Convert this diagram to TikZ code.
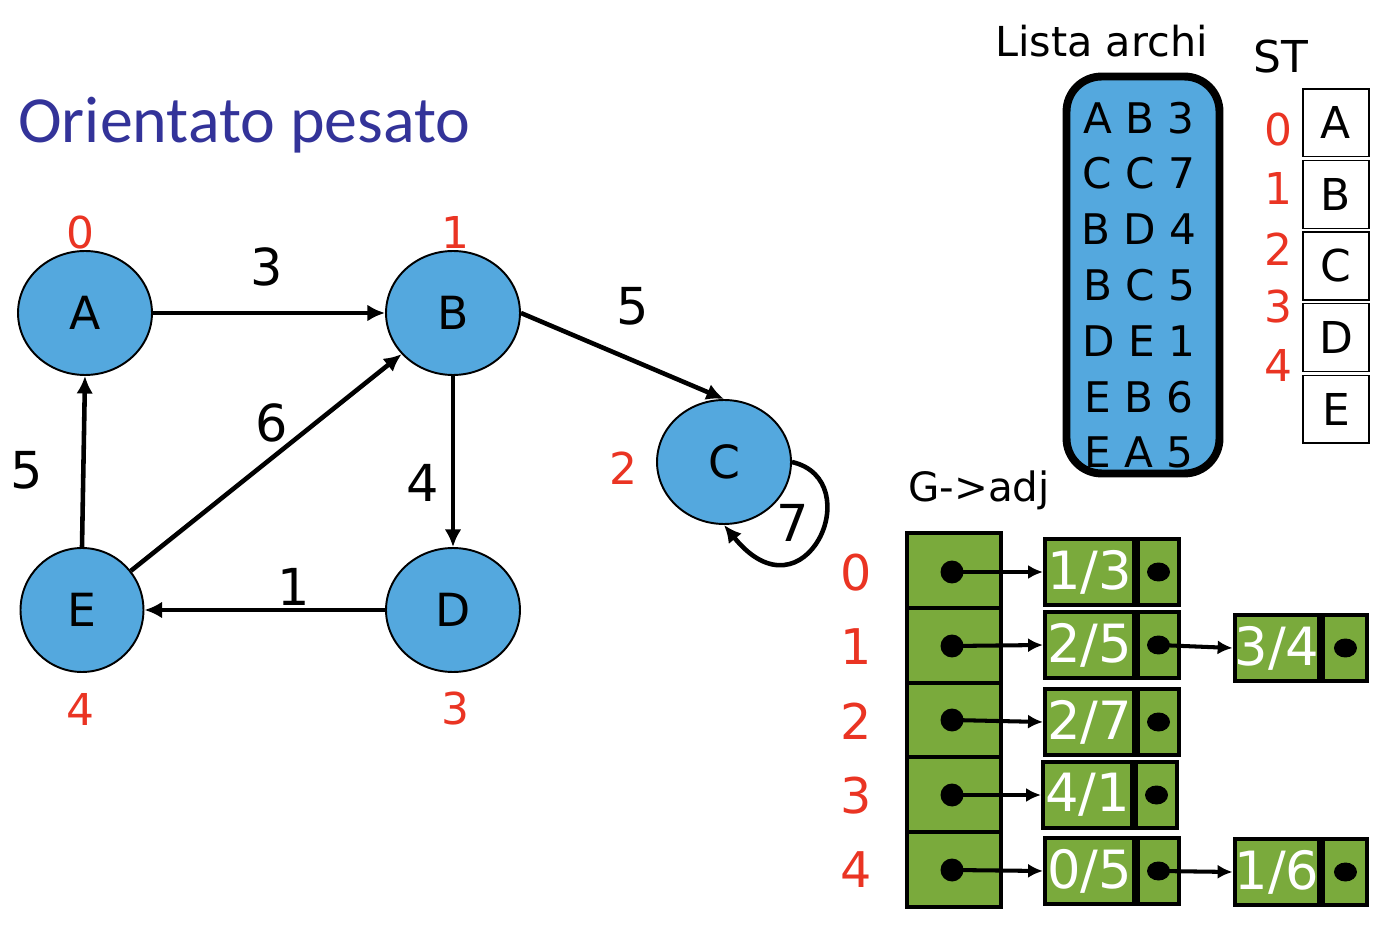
\documentclass[tikz,border=0pt]{standalone}
\usepackage{fontspec}
\setmainfont{DejaVu Sans}
\newfontfamily\titlefont{Carlito}
\usetikzlibrary{shapes.geometric,positioning,arrows.meta}
\definecolor{azzurro}{RGB}{84,168,222}
\definecolor{verde}{RGB}{122,170,60}
\definecolor{rosso}{RGB}{234,52,35}
\definecolor{blutitolo}{RGB}{51,51,153}

\begin{document}
\begin{tikzpicture}[x=0.02cm,y=-0.02cm,
  vertice/.style={ellipse,draw,line width=1.1pt,fill=azzurro,inner sep=0pt,minimum width=2.68cm,minimum height=2.48cm,font=\fontsize{26}{30}\selectfont},
  indice/.style={text=rosso,inner sep=0pt,font=\fontsize{25}{30}\selectfont},
  peso/.style={inner sep=0pt,font=\fontsize{29}{34}\selectfont},
  arco/.style={line width=2.6pt,-{Latex[length=10pt,width=9.5pt]}},
  lista/.style={draw,line width=4.5pt,rounded corners=0.7cm,fill=azzurro,minimum width=3.06cm,minimum height=7.94cm,inner sep=0pt},
  riga/.style={inner sep=0pt,font=\fontsize{24}{28}\selectfont},
  cella/.style={draw,line width=0.8pt,minimum width=1.32cm,minimum height=1.36cm,inner sep=0pt,font=\fontsize{25}{30}\selectfont},
  cellaadj/.style={draw,line width=2.3pt,fill=verde,minimum width=1.88cm,minimum height=1.496cm,inner sep=0pt},
  valore/.style={draw,line width=2.3pt,fill=verde,minimum width=1.78cm,minimum height=1.32cm,inner sep=0pt,text=white,font=\fontsize{30}{34}\selectfont},
  puntatore/.style={draw,line width=2.3pt,fill=verde,minimum width=0.82cm,minimum height=1.32cm,inner sep=0pt},
  punto/.style={circle,fill=black,minimum size=0.46cm,inner sep=0pt},
  puntino/.style={ellipse,fill=black,minimum width=0.46cm,minimum height=0.38cm,inner sep=0pt},
  freccia/.style={line width=2.3pt,-{Latex[length=8.5pt,width=8pt]}}]

\useasboundingbox (0,0) rectangle (1382,928);

% titolo
\node[anchor=base west,inner sep=0pt,text=blutitolo,font=\titlefont\fontsize{37.5}{40}\selectfont] (titolo) at (18,143) {Orientato pesato};

% grafo
\node[vertice] (A) at (85,313) {A};
\node[vertice] (B) at (453,313) {B};
\node[vertice] (C) at (724,462) {C};
\node[vertice] (D) at (453,610) {D};
\node[vertice,minimum width=2.46cm] (E) at (82,610) {E};

\node[indice] (i0) at (80,233) {0};
\node[indice] (i1) at (455,232) {1};
\node[indice] (i2) at (623,468) {2};
\node[indice] (i3) at (455,709) {3};
\node[indice] (i4) at (80,709) {4};

\draw [arco] (A) -- (B);
\draw [arco] (B.east) -- (C.north);
\draw [arco] (B) -- (D);
\draw [arco] (D) -- (E);
\draw [arco] (E.north) -- (A.south);
\draw [arco] (E) -- (B);
\draw [arco] (C.east) .. controls (870,480) and (805,625) .. (C.south);

\node[peso] (p1) at (267,267) {3};
\node[peso] (p2) at (633,306) {5};
\node[peso] (p3) at (272,423) {6};
\node[peso] (p4) at (27,470) {5};
\node[peso] (p5) at (423,483) {4};
\node[peso] (p6) at (294,587) {1};
\node[peso] (p7) at (793,523) {7};

% lista archi
\node[anchor=base west,inner sep=0pt,font=\fontsize{23.5}{28}\selectfont] (tlista) at (995,57) {Lista archi};
\node[lista] (lista) at (1143,275) {};
\node[riga] (r1) at (1139,118) {A B 3};
\node[riga] (r2) at (1139,173) {C C 7};
\node[riga] (r3) at (1139,229) {B D 4};
\node[riga] (r4) at (1139,285) {B C 5};
\node[riga] (r5) at (1139,341) {D E 1};
\node[riga] (r6) at (1139,397) {E B 6};
\node[riga] (r7) at (1139,452) {E A 5};

% tabella di simboli
\node[anchor=base west,inner sep=0pt,font=\fontsize{25}{30}\selectfont] (tst) at (1253,73) {ST};
\node[cella] (st0) at (1336,122.8) {A};
\node[cella] (st1) at (1336,194.4) {B};
\node[cella] (st2) at (1336,266) {C};
\node[cella] (st3) at (1336,337.6) {D};
\node[cella] (st4) at (1336,409.2) {E};
\node[indice] (s0) at (1278,130) {0};
\node[indice] (s1) at (1278,188) {1};
\node[indice] (s2) at (1278,249) {2};
\node[indice] (s3) at (1278,307) {3};
\node[indice] (s4) at (1278,365) {4};

% liste di adiacenza
\node[anchor=base west,inner sep=0pt,font=\fontsize{23}{28}\selectfont] (tadj) at (908,502) {G->adj};
\node[cellaadj] (g0) at (954,570.4) {};
\node[cellaadj] (g1) at (954,645.2) {};
\node[cellaadj] (g2) at (954,720) {};
\node[cellaadj] (g3) at (954,794.8) {};
\node[cellaadj] (g4) at (954,869.6) {};
\node[punto] (d0) at (952,572) {};
\node[punto] (d1) at (952,646) {};
\node[punto] (d2) at (952,720) {};
\node[punto] (d3) at (952,795) {};
\node[punto] (d4) at (952,870) {};
\node[indice,font=\fontsize{28}{32}\selectfont] (a0) at (856,573) {0};
\node[indice,font=\fontsize{28}{32}\selectfont] (a1) at (856,647) {1};
\node[indice,font=\fontsize{28}{32}\selectfont] (a2) at (856,721) {2};
\node[indice,font=\fontsize{28}{32}\selectfont] (a3) at (856,796) {3};
\node[indice,font=\fontsize{28}{32}\selectfont] (a4) at (856,870) {4};

\node[valore] (v0) at (1089.5,572) {1/3};
\node[puntatore,right=0pt of v0] (n0) {};
\node[valore] (v1) at (1089.5,645) {2/5};
\node[puntatore,right=0pt of v1] (n1) {};
\node[valore] (v2) at (1089.5,722) {2/7};
\node[puntatore,right=0pt of v2] (n2) {};
\node[valore] (v3) at (1087.5,795) {4/1};
\node[puntatore,right=0pt of v3] (n3) {};
\node[valore] (v4) at (1089.5,871) {0/5};
\node[puntatore,right=0pt of v4] (n4) {};
\node[valore,minimum width=1.38cm] (w1) at (1277,648) {3/4};
\node[puntatore,minimum width=0.88cm,right=0pt of w1] (m1) {};
\node[valore,minimum width=1.38cm] (w4) at (1277,872) {1/6};
\node[puntatore,minimum width=0.88cm,right=0pt of w4] (m4) {};

\node[puntino] (q0) at (n0) {};
\node[puntino] (q1) at (n1) {};
\node[puntino] (q2) at (n2) {};
\node[puntino] (q3) at (n3) {};
\node[puntino] (q4) at (n4) {};
\node[puntino] (k1) at (m1) {};
\node[puntino] (k4) at (m4) {};

\draw [freccia] (d0.center) -- (v0.west);
\draw [freccia] (d1.center) -- (v1.west);
\draw [freccia] (d2.center) -- (v2.west);
\draw [freccia] (d3.center) -- (v3.west);
\draw [freccia] (d4.center) -- (v4.west);
\draw [freccia] (q1.center) -- (w1.west);
\draw [freccia] (q4.center) -- (w4.west);
\end{tikzpicture}
\end{document}
